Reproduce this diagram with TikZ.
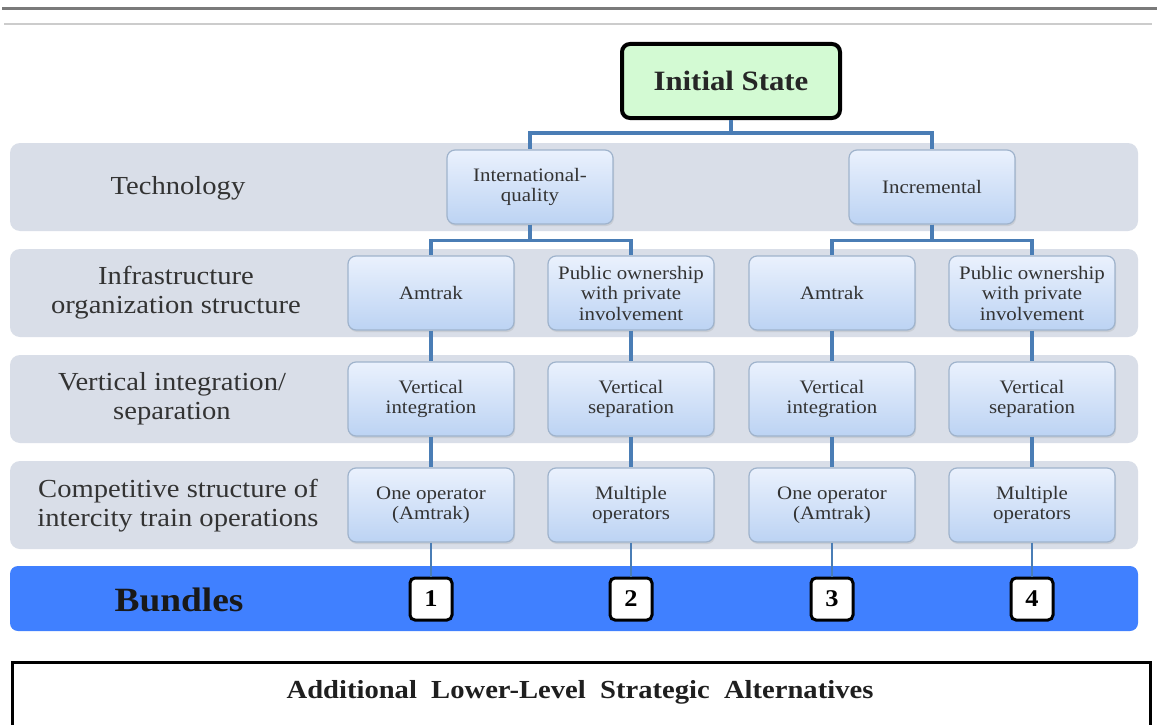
\documentclass[tikz,border=0pt]{standalone}
\usepackage{fontspec}
\setmainfont[FakeStretch=1.1]{Liberation Serif}
\usetikzlibrary{shadows}
\definecolor{bandgray}{HTML}{D9DEE8}
\definecolor{bandblue}{HTML}{4080FF}
\definecolor{boxtop}{HTML}{EAF1FD}
\definecolor{boxbot}{HTML}{BCD3F3}
\definecolor{boxborder}{HTML}{9FB3CC}
\definecolor{connblue}{HTML}{4A7DB5}
\definecolor{textgray}{HTML}{333333}
\definecolor{initgreen}{HTML}{D3FAD3}
\tikzset{
  band/.style={fill=bandgray, rounded corners=10pt},
  rowlabel/.style={align=center, text=textgray, font=\fontsize{26}{29}\selectfont},
  optbox/.style={draw=boxborder, line width=1.2pt, rounded corners=8pt,
    top color=boxtop, bottom color=boxbot, minimum width=166pt, minimum height=74pt,
    align=center, text=textgray, inner sep=0pt, font=\fontsize{19}{20.5}\selectfont,
    drop shadow={opacity=0.18, shadow xshift=1pt, shadow yshift=-2pt}},
  conn/.style={draw=connblue, line width=3.5pt},
  thinconn/.style={draw=connblue, line width=2pt},
  numbox/.style={draw=black, line width=3pt, rounded corners=5pt, fill=white,
    minimum width=42pt, minimum height=42pt, inner sep=0pt,
    font=\fontsize{24}{24}\selectfont\bfseries},
}
\begin{document}
\begin{tikzpicture}[x=1pt,y=-1pt]
\useasboundingbox (0,0) rectangle (1157,725);
\clip (0,0) rectangle (1157,725);
\fill[white] (0,0) rectangle (1157,725);
% top rules
\draw[line width=3pt, color=black!52] (2,9) -- (1157,9);
\draw[line width=2pt, color=black!20] (4,24) -- (1152,24);
% bands
\path[band] (10,143) rectangle (1138,231);
\path[band] (10,249) rectangle (1138,337);
\path[band] (10,355) rectangle (1138,443);
\path[band] (10,461) rectangle (1138,549);
\path[fill=bandblue, rounded corners=8pt] (10,566) rectangle (1138,631);
% row labels
\node[rowlabel] (l1) at (178,188) {Technology};
\node[rowlabel] (l2) at (176,293) {Infrastructure\\organization structure};
\node[rowlabel] (l3) at (172,399) {Vertical integration/\\separation};
\node[rowlabel] (l4) at (178,506) {Competitive structure of\\intercity train operations};
\node[font=\fontsize{34}{34}\selectfont\bfseries, text=black!90] (lb) at (179,600) {Bundles};
% initial state
\node[draw=black, line width=4pt, rounded corners=8pt, fill=initgreen,
  minimum width=218pt, minimum height=74pt, inner sep=0pt,
  font=\fontsize{28}{28}\selectfont\bfseries, text=black!85] (init) at (731,81) {Initial State};
% level 1
\node[optbox] (intl) at (530,187) {International-\\quality};
\node[optbox] (incr) at (932,187) {Incremental};
% level 2
\node[optbox] (a1) at (431,293) {Amtrak};
\node[optbox] (p1) at (631,293) {Public ownership\\with private\\involvement};
\node[optbox] (a2) at (832,293) {Amtrak};
\node[optbox] (p2) at (1032,293) {Public ownership\\with private\\involvement};
% level 3
\node[optbox] (v1) at (431,399) {Vertical\\integration};
\node[optbox] (v2) at (631,399) {Vertical\\separation};
\node[optbox] (v3) at (832,399) {Vertical\\integration};
\node[optbox] (v4) at (1032,399) {Vertical\\separation};
% level 4
\node[optbox] (c1) at (431,505) {One operator\\(Amtrak)};
\node[optbox] (c2) at (631,505) {Multiple\\operators};
\node[optbox] (c3) at (832,505) {One operator\\(Amtrak)};
\node[optbox] (c4) at (1032,505) {Multiple\\operators};
% bundles
\node[numbox] (b1) at (431,599) {1};
\node[numbox] (b2) at (631,599) {2};
\node[numbox] (b3) at (832,599) {3};
\node[numbox] (b4) at (1032,599) {4};
% connectors
\draw[conn] (init.south) -- ++(0,13) -| (intl.north);
\draw[conn] (init.south) -- ++(0,13) -| (incr.north);
\draw[conn] (intl.south) -- ++(0,16) -| (a1.north);
\draw[conn] (intl.south) -- ++(0,16) -| (p1.north);
\draw[conn] (incr.south) -- ++(0,16) -| (a2.north);
\draw[conn] (incr.south) -- ++(0,16) -| (p2.north);
\draw[conn] (a1) -- (v1); \draw[conn] (p1) -- (v2);
\draw[conn] (a2) -- (v3); \draw[conn] (p2) -- (v4);
\draw[conn] (v1) -- (c1); \draw[conn] (v2) -- (c2);
\draw[conn] (v3) -- (c3); \draw[conn] (v4) -- (c4);
\draw[thinconn] (c1) -- (b1); \draw[thinconn] (c2) -- (b2);
\draw[thinconn] (c3) -- (b3); \draw[thinconn] (c4) -- (b4);
% bottom box
\node[draw=black, line width=3pt, fill=white, minimum width=1138pt, minimum height=80pt,
  inner sep=0pt, anchor=north west] (alt) at (11,661) {};
\node[font=\fontsize{26}{26}\selectfont\bfseries, text=black!88] (altt) at (580,692)
  {Additional\ \ Lower-Level\ \ Strategic\ \ Alternatives};
\end{tikzpicture}
\end{document}
